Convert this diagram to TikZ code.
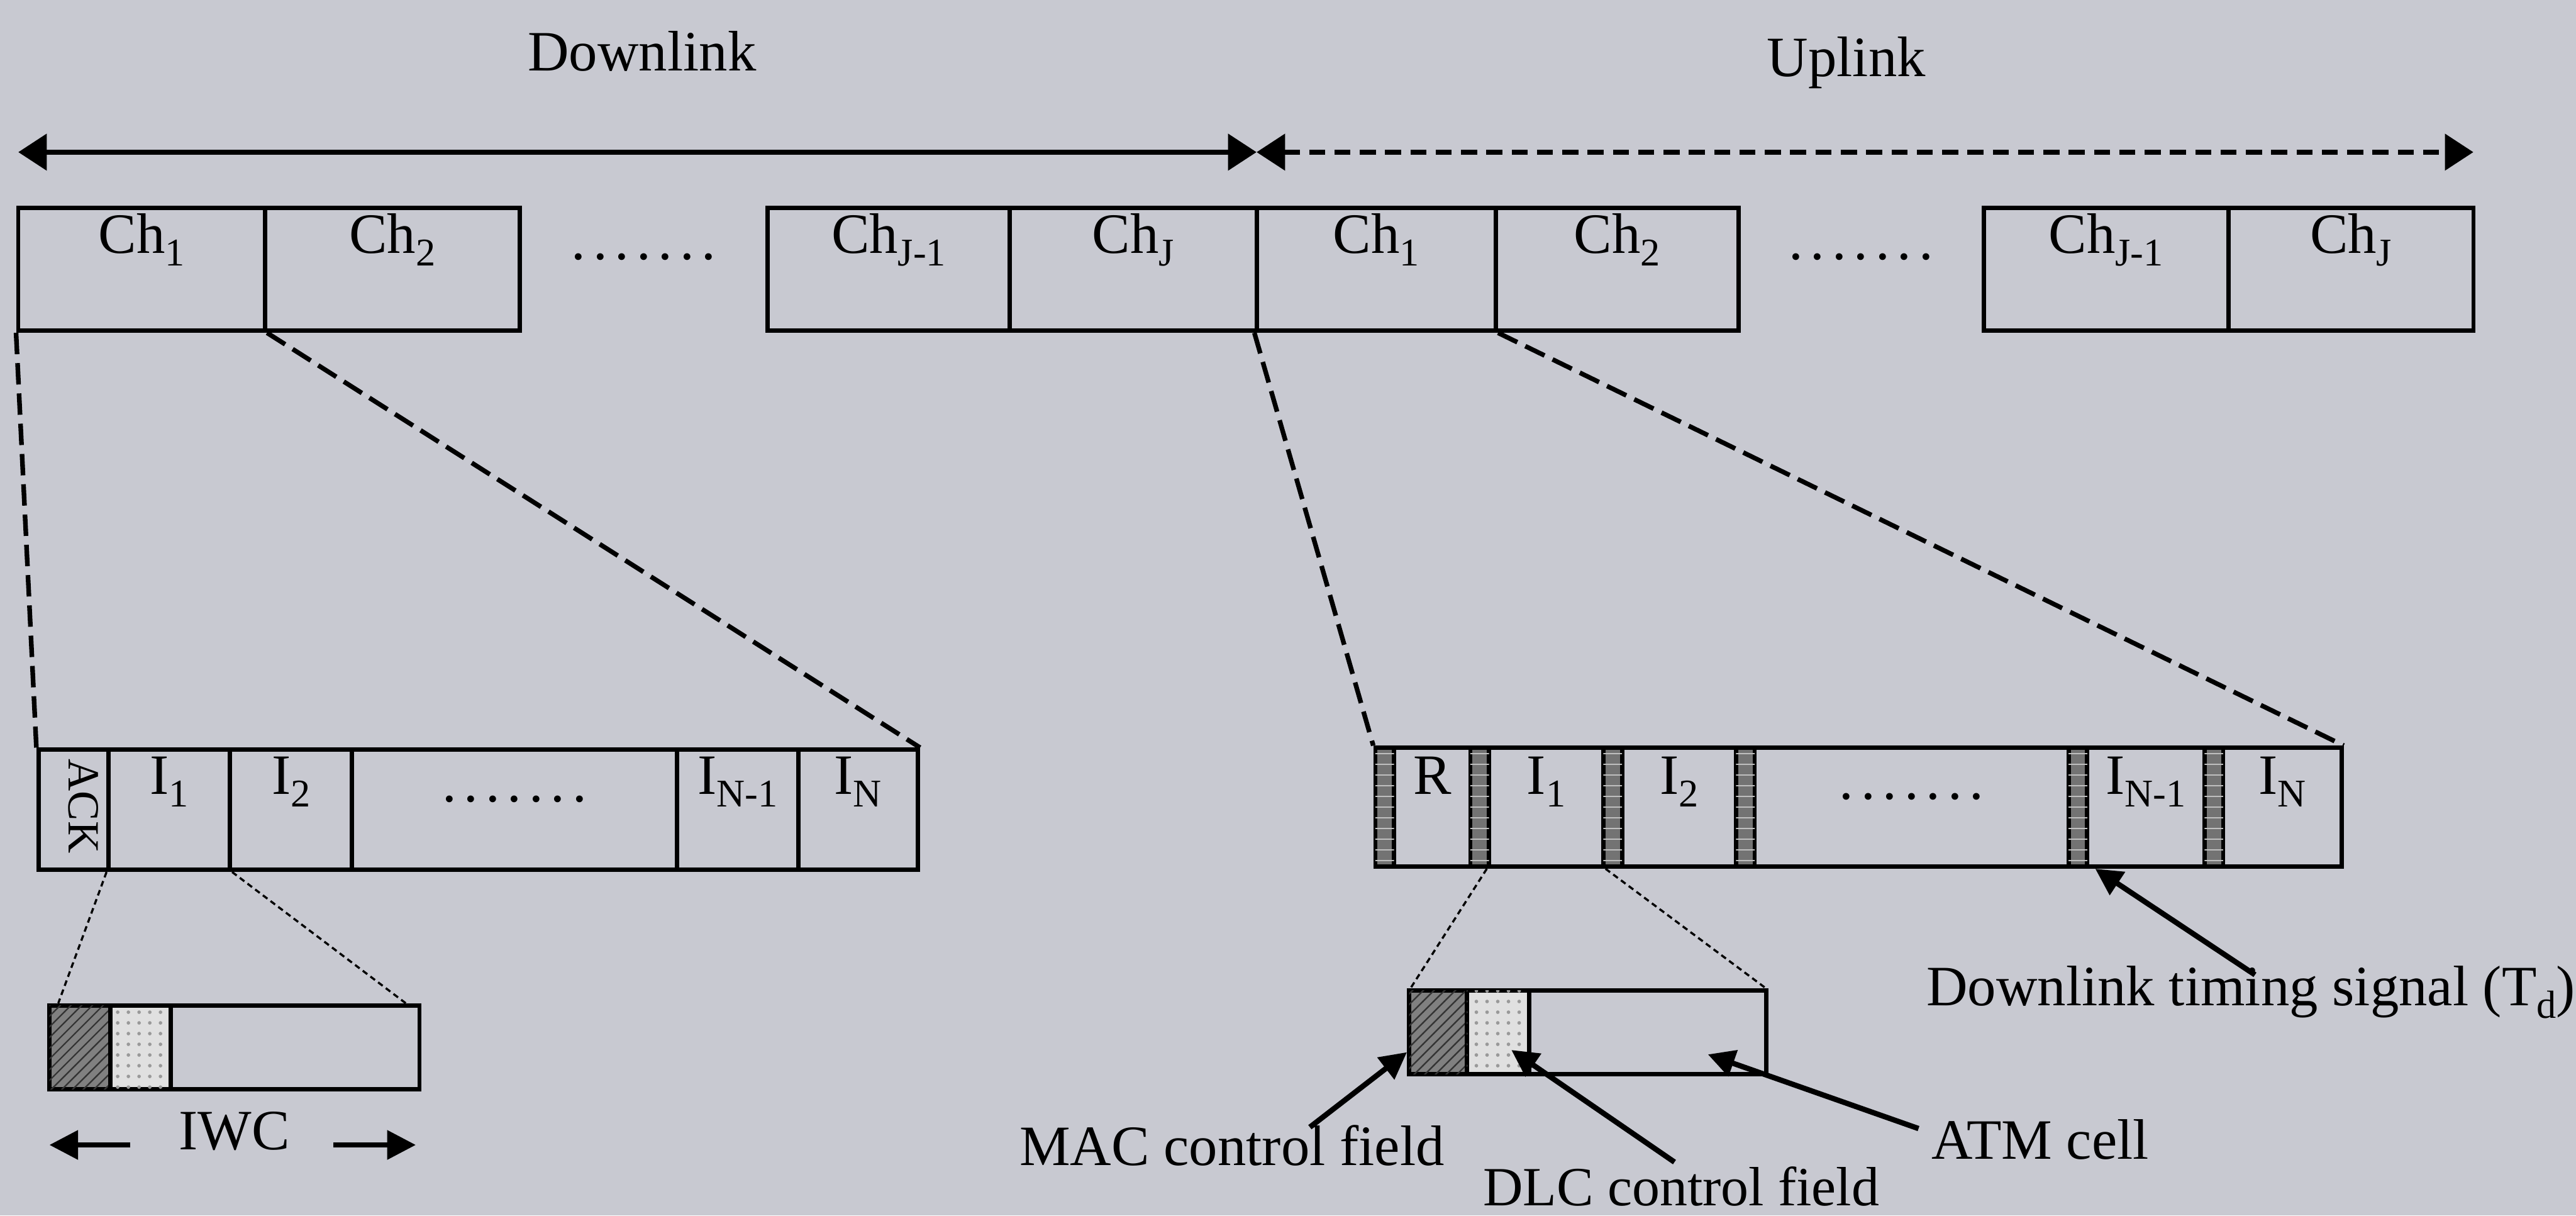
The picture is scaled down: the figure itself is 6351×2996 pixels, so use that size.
\documentclass[tikz,border=0pt]{standalone}
\usepackage{fontspec}
\setmainfont{Liberation Serif}
\usetikzlibrary{arrows.meta,patterns,calc}
\definecolor{paper}{RGB}{200,201,209}
\newcommand\sbs[1]{\raisebox{-3.5pt}{\fontsize{11}{11}\selectfont #1}}
\newcommand\sevendots{.\kern.13em.\kern.13em.\kern.13em.\kern.13em.\kern.13em.\kern.13em.}

\begin{document}
\begin{tikzpicture}[x=0.004cm,y=-0.004cm,
  every node/.style={font=\fontsize{16}{19}\selectfont, inner sep=0pt},
  cell/.style 2 args={draw, line width=1.2pt, minimum width=#1*0.04mm, minimum height=#2*0.04mm},
  strip/.style={fill=black!55, postaction={pattern=horizontal lines, pattern color=black!25}},
  macfill/.style={fill=black!50, postaction={pattern=north east lines, pattern color=black!80}},
  dlcfill/.style={fill=black!12, postaction={pattern=dots, pattern color=black!40}},
  span/.style={line width=1.5pt, <->, >={Triangle[length=8pt,width=10pt]}},
  zoomln/.style={line width=1.3pt, dash pattern=on 6pt off 2.5pt},
  fineln/.style={line width=0.6pt, dash pattern=on 1.6pt off 1.1pt},
  tagarrow/.style={line width=1.5pt, -{Triangle[length=7.5pt,width=7.5pt]}},
  sizearr/.style={line width=1.3pt, -{Triangle[length=8pt,width=8pt]}}]

\fill[paper, use as bounding box] (0,0) rectangle (6351,2996);

% frame: downlink and uplink
\coordinate (lnL) at (45,375);
\coordinate (lnM) at (3098,375);
\coordinate (lnR) at (6098,375);
\draw[span] (lnL) -- (lnM);
\draw[span, dash pattern=on 4.5pt off 2.6pt] (lnM) -- (lnR);
\node[anchor=base] (dlTxt) at (1583,175) {Downlink};
\node[anchor=base] (ulTxt) at (4552,188) {Uplink};

% channels
\foreach \nm/\cx/\w/\lab in {dA/349/608/{Ch\sbs{1}}, dB/967.5/629/{Ch\sbs{2}},
    dC/2191/598/{Ch\sbs{J-1}}, dD/2794/608/{Ch\sbs{J}},
    uA/3393/590/{Ch\sbs{1}}, uB/3987/598/{Ch\sbs{2}},
    uC/5192.5/603/{Ch\sbs{J-1}}, uD/5796/604/{Ch\sbs{J}}}{
  \node[cell={\w}{303}] (\nm) at (\cx,663.5) {};
  \node[anchor=base] (\nm-t) at ($(\nm.north)+(0,117)$) {\lab};
}
\node[anchor=base] (dDots) at (1587,640) {\sevendots};
\node[anchor=base] (uDots) at (4588,640) {\sevendots};

% downlink channel
\foreach \nm/\cx/\w in {dK/181.5/173, dI1/417.5/299, dI2/717.5/301,
    dIx/1268.5/801, dIm/1818.5/299, dIn/2115.5/295}
  \node[cell={\w}{296}] (\nm) at (\cx,1996) {};
\node[rotate=-90, font=\fontsize{12.5}{14}\selectfont] (ackTxt) at (206,1987) {ACK};
\node[anchor=base] (dI1-t) at ($(dI1.north)+(0,115)$) {I\sbs{1}};
\node[anchor=base] (dI2-t) at ($(dI2.north)+(0,115)$) {I\sbs{2}};
\node[anchor=base] (dIx-t) at ($(dIx.north)+(0,133)$) {\sevendots};
\node[anchor=base] (dIm-t) at ($(dIm.north)+(0,115)$) {I\sbs{N-1}};
\node[anchor=base] (dIn-t) at ($(dIn.north)+(0,115)$) {I\sbs{N}};

% uplink channel
\foreach \nm/\cx/\w in {uR/3531/188, uI1/3812/282, uI2/4139.5/281,
    uIx/4713/774, uIm/5290.5/289, uIn/5627/292}
  \node[cell={\w}{293}] (\nm) at (\cx,1989.5) {};
\foreach \i/\cx in {1/3414, 2/3648, 3/3976, 4/4303, 5/5123, 6/5458}
  \node[cell={46}{293}, strip] (s\i) at (\cx,1989.5) {};
\node[anchor=base] (uR-t) at ($(uR.north)+(0,120)$) {R};
\node[anchor=base] (uI1-t) at ($(uI1.north)+(0,120)$) {I\sbs{1}};
\node[anchor=base] (uI2-t) at ($(uI2.north)+(0,120)$) {I\sbs{2}};
\node[anchor=base] (uIx-t) at ($(uIx.north)+(0,132)$) {\sevendots};
\node[anchor=base] (uIm-t) at ($(uIm.north)+(0,120)$) {I\sbs{N-1}};
\node[anchor=base] (uIn-t) at ($(uIn.north)+(0,120)$) {I\sbs{N}};

% IWC
\node[cell={150}{207}, macfill] (wA) at (197,2581.5) {};
\node[cell={149}{207}, dlcfill] (wB) at (346.5,2581.5) {};
\node[cell={613}{207}] (wC) at (727.5,2581.5) {};
\node[anchor=base] (iwc) at (578,2834) {IWC};
\coordinate (wL0) at (321,2822);
\coordinate (wL) at (122,2822);
\coordinate (wR0) at (822,2822);
\coordinate (wR) at (1025,2822);
\draw[sizearr] (wL0) -- (wL);
\draw[sizearr] (wR0) -- (wR);

% uplink cell
\node[cell={143}{207}, macfill] (cA) at (3545.5,2544.5) {};
\node[cell={153}{207}, dlcfill] (cB) at (3693.5,2544.5) {};
\node[cell={584}{207}] (cC) at (4062,2544.5) {};

% zoom lines
\draw[zoomln] (dA.south west) -- (dK.north west);
\draw[zoomln] (dA.south east) -- (dIn.north east);
\draw[zoomln] (uA.south west) -- (s1.north west);
\draw[zoomln] (uA.south east) -- (uIn.north east);
\draw[fineln] (dI1.south west) -- ([xshift=0.108cm]wA.north west);
\draw[fineln] (dI1.south east) -- ([xshift=-0.156cm]wC.north east);
\draw[fineln] (uI1.south west) -- ([xshift=0.036cm]cA.north west);
\draw[fineln] (uI1.south east) -- ([xshift=-0.024cm]cC.north east);

% labels
\node[anchor=base west] (mac) at (2512,2873) {MAC control field};
\node[anchor=base west, font=\fontsize{15.5}{18}\selectfont] (dlc) at (3655,2972) {DLC control field};
\node[anchor=base west] (atm) at (4761,2857) {ATM cell};
\node[anchor=base west] (td) at (4748,2479) {Downlink timing signal (T\sbs{d})};
\draw[tagarrow] ([xshift=2.868cm,yshift=-0.024cm]mac.north west) -- ($(cA.west)!.45!(cA.south west)$);
\draw[tagarrow] ([xshift=1.892cm,yshift=0.04cm]dlc.north west) -- ($(cB.center)!.4!(cB.south east)$);
\draw[tagarrow] ([xshift=-0.124cm,yshift=-0.096cm]atm.north west) -- ($(cC.center)!.5!(cC.south east)$);
\draw[tagarrow] ([xshift=3.244cm,yshift=-0.092cm]td.north west) -- ([xshift=0.1cm]uIm.south west);
\end{tikzpicture}
\end{document}
